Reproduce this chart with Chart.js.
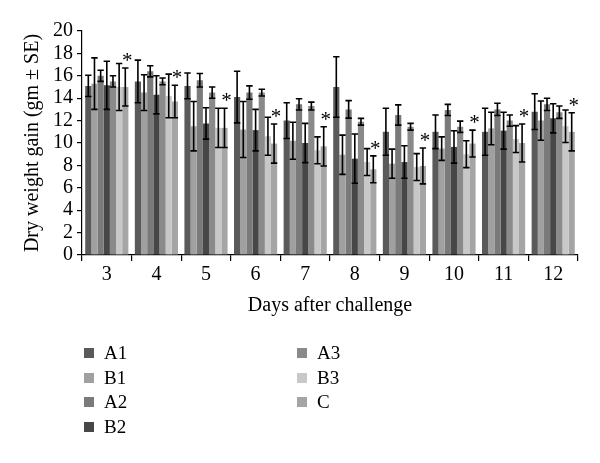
<!DOCTYPE html>
<html>
<head>
<meta charset="utf-8">
<script src="https://cdn.jsdelivr.net/npm/chart.js@4.4.1/dist/chart.umd.min.js"></script>
<style>
  html, body { margin:0; padding:0; background:#fff; }
  #wrap { position:relative; width:600px; height:463px; }
  #legend { position:absolute; left:0; top:0; font-family:"Liberation Serif","DejaVu Serif",serif; font-size:19px; color:#000; }
  .item { position:absolute; white-space:nowrap; line-height:20px; }
  .box { position:absolute; width:10px; height:10px; top:5px; left:0; }
  .lbl { position:absolute; left:20px; top:0; }
</style>
</head>
<body>
<div id="wrap">
  <canvas id="chart" width="600" height="463"></canvas>
  <div id="legend"></div>
</div>
<script>
const days = ['3','4','5','6','7','8','9','10','11','12']
const seriesNames = ['A1','B1','A2','B2','A3','B3','C']
const seriesColors = ['#5a5a5a','#a0a0a0','#7a7a7a','#474747','#8a8a8a','#c8c8c8','#a5a5a5']

const A1 = [15.1, 15.5, 15.1, 14.1, 12.0, 15.0, 11.0, 11.0, 11.0, 12.8]
const A1se = [0.95, 1.9, 1.15, 2.3, 1.6, 2.7, 2.1, 1.5, 2.1, 1.6]
const B1 = [15.3, 14.5, 11.5, 11.2, 10.2, 8.95, 8.15, 9.5, 11.3, 12.0]
const B1se = [2.3, 1.6, 2.2, 2.5, 1.65, 1.75, 1.3, 1.05, 1.45, 1.75]
const A2 = [16.0, 16.4, 15.6, 14.5, 13.45, 13.0, 12.5, 12.95, 13.0, 13.45]
const A2se = [0.5, 0.5, 0.6, 0.6, 0.5, 0.78, 0.9, 0.5, 0.55, 0.55]
const B2 = [15.15, 14.3, 11.75, 11.15, 10.0, 8.6, 8.3, 9.65, 11.1, 12.2]
const B2se = [2.15, 1.7, 1.4, 1.85, 1.75, 2.2, 1.45, 1.45, 1.65, 1.3]
const A3 = [15.5, 15.5, 14.5, 14.5, 13.3, 11.9, 11.45, 11.45, 12.0, 12.75]
const A3se = [0.5, 0.3, 0.5, 0.3, 0.35, 0.3, 0.3, 0.5, 0.5, 0.55]
const B3 = [15.0, 14.2, 11.35, 10.6, 9.35, 8.3, 7.85, 9.0, 10.35, 11.5]
const B3se = [2.1, 1.95, 1.75, 1.7, 1.2, 1.2, 1.2, 1.2, 1.2, 1.45]
const C = [15.0, 13.7, 11.35, 9.95, 9.7, 7.65, 7.95, 9.95, 10.0, 11.0]
const Cse = [1.7, 1.45, 1.75, 1.75, 1.75, 1.2, 1.6, 1.2, 1.7, 1.7]

const yTicks = [0, 2, 4, 6, 8, 10, 12, 14, 16, 18, 20]
const starMark = '*'

const means = [A1, B1, A2, B2, A3, B3, C]
const errs = [A1se, B1se, A2se, B2se, A3se, B3se, Cse]

const serif = '"Liberation Serif","DejaVu Serif",serif'

// error bars + asterisks over the C group, placed through the y scale
const errorBars = {
  id: 'errorBars',
  afterDatasetsDraw(chart) {
    const ctx = chart.ctx, y = chart.scales.y
    ctx.save()
    ctx.strokeStyle = '#000'
    ctx.lineWidth = 1.6
    chart.data.datasets.forEach((ds, i) => {
      const meta = chart.getDatasetMeta(i)
      meta.data.forEach((bar, j) => {
        const hi = y.getPixelForValue(ds.data[j] + errs[i][j])
        const lo = y.getPixelForValue(ds.data[j] - errs[i][j])
        const half = 3.2
        ctx.beginPath()
        ctx.moveTo(bar.x, hi); ctx.lineTo(bar.x, lo)
        ctx.moveTo(bar.x - half, hi); ctx.lineTo(bar.x + half, hi)
        ctx.moveTo(bar.x - half, lo); ctx.lineTo(bar.x + half, lo)
        ctx.stroke()
        if (i === means.length - 1) {
          ctx.fillStyle = '#000'
          ctx.font = '21px ' + serif
          ctx.textAlign = 'center'
          ctx.textBaseline = 'alphabetic'
          ctx.fillText(starMark, bar.x + 2, hi - 1)
        }
      })
    })
    ctx.restore()
  }
}

new Chart(document.getElementById('chart'), {
  type: 'bar',
  data: {
    labels: days,
    datasets: seriesNames.map((n, i) => ({
      label: n,
      data: means[i],
      backgroundColor: seriesColors[i],
      borderWidth: 0,
      categoryPercentage: 0.87,
      barPercentage: 1.0
    }))
  },
  options: {
    responsive: false,
    animation: false,
    layout: { padding: { left: 0, right: 22, top: 31, bottom: 145 } },
    plugins: { legend: { display: false }, tooltip: { enabled: false } },
    scales: {
      x: {
        grid: { display: true, drawOnChartArea: false, offset: true, color: '#000', tickLength: 6, lineWidth: 1.2 },
        border: { color: '#000', width: 1.2 },
        ticks: { color: '#000', font: { family: serif, size: 20 }, padding: 2, maxRotation: 0 },
        title: { display: true, text: 'Days after challenge', color: '#000', font: { family: serif, size: 20 }, padding: { top: 0, bottom: 0 } },
        afterFit(s) { s.height = 63 }
      },
      y: {
        min: 0, max: 20,
        afterBuildTicks(s) { s.ticks = yTicks.map(v => ({ value: v })) },
        grid: { display: true, drawOnChartArea: false, color: '#000', tickLength: 5, lineWidth: 1.2 },
        border: { color: '#000', width: 1.2 },
        ticks: { color: '#000', font: { family: serif, size: 20 }, padding: 4, autoSkip: false },
        title: { display: true, text: 'Dry weight gain (gm ± SE)', color: '#000', font: { family: serif, size: 20 }, padding: { top: 21, bottom: 0 } },
        afterFit(s) { s.width = 82 }
      }
    }
  },
  plugins: [errorBars]
})

// legend laid out in two columns like the reference
const legend = document.getElementById('legend')
const rowsPerCol = 4
seriesNames.forEach((n, i) => {
  const col = Math.floor(i / rowsPerCol), row = i % rowsPerCol
  const el = document.createElement('div')
  el.className = 'item'
  el.style.left = (col === 0 ? 84 : 297) + 'px'
  el.style.top = (343 + row * 24.7) + 'px'
  el.innerHTML = '<span class="box" style="background:' + seriesColors[i] + '"></span><span class="lbl">' + n + '</span>'
  legend.appendChild(el)
})
</script>
</body>
</html>
